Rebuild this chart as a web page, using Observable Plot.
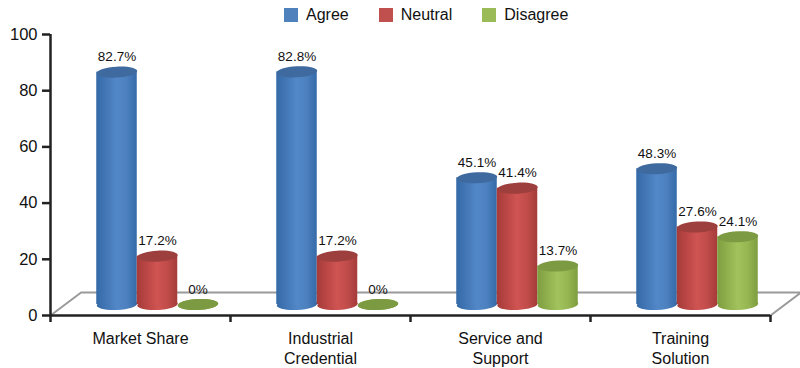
<!DOCTYPE html>
<html>
<head>
<meta charset="utf-8">
<script src="https://cdn.jsdelivr.net/npm/d3@7"></script>
<script src="https://cdn.jsdelivr.net/npm/@observablehq/plot@0.6"></script>
<style>
  html, body { margin: 0; background: #fff; font-family: "Liberation Sans", Arial, sans-serif; color: #111; }
  #legend { box-sizing: border-box; height: 24px; padding: 5px 0 0 284px; display: flex; align-items: center; font-size: 16px; }
  #legend span { display: inline-flex; align-items: center; margin-right: 30px; }
  #legend i { display: inline-block; width: 14px; height: 14px; margin-right: 8px; }
  svg { display: block; }
</style>
</head>
<body>
<div id="legend"></div>
<div id="chart"></div>
<script>
const categories = ["Market Share", "Industrial\nCredential", "Service and\nSupport", "Training\nSolution"];
const series = ["Agree", "Neutral", "Disagree"];
const agree = [82.7, 82.8, 45.1, 48.3];
const neutral = [17.2, 17.2, 41.4, 27.6];
const disagree = [0, 0, 13.7, 24.1];
const yTicks = [0, 20, 40, 60, 80, 100];

const swatches = ["#4f81bd", "#c0504d", "#9bbb59"];
const caps = ["#3f6a9f", "#9c3f3d", "#7b9a42"];
const shades = [
  ["#356aa8", "#4377b6", "#5388c8", "#4c80bf", "#356aa8"],
  ["#a53b39", "#bb4745", "#cf5452", "#c04c4a", "#a53b39"],
  ["#7e9e40", "#90b04e", "#a2c25d", "#96b652", "#7e9e40"]
];

const values = [agree, neutral, disagree];
const rows = categories.flatMap((category, g) =>
  series.map((name, s) => ({group: g, slot: s, series: name, value: values[s][g]}))
);

// Cylinders sit on the middle of the receding floor, so everything is nudged back by the same offset.
const barWidth = 0.225;
const depth = {dx: 17, dy: -11};
const left = (d) => d.group + 0.5 + (d.slot - 1.5) * barWidth;
const middle = (d) => d.group + 0.5 + (d.slot - 1) * barWidth;

// Flattened circle, used as a dot symbol for the cylinder ends.
const ellipse = {
  draw(context, size) {
    const a = Math.sqrt(size / Math.PI), b = a * 0.27, k = 0.5523;
    context.moveTo(-a, 0);
    context.bezierCurveTo(-a, -k * b, -k * a, -b, 0, -b);
    context.bezierCurveTo(k * a, -b, a, -k * b, a, 0);
    context.bezierCurveTo(a, k * b, k * a, b, 0, b);
    context.bezierCurveTo(-k * a, b, -a, k * b, -a, 0);
    context.closePath();
  }
};

const gradients = () => {
  const defs = d3.create("svg:defs");
  shades.forEach((stops, i) => {
    const g = defs.append("linearGradient").attr("id", `shade${i}`);
    stops.forEach((c, j) => g.append("stop").attr("offset", j / (stops.length - 1)).attr("stop-color", c));
  });
  return defs.node();
};

// Floor outline in data units: the back edge recedes up and to the right.
const backX = 0.17, backY = 8.2;
const floor = [[0, 0], [backX, backY], [4 + backX, backY], [4, 0]];
const tickColor = "#222";

const plot = Plot.plot({
  width: 800,
  height: 344,
  marginLeft: 50,
  marginRight: 30,
  marginTop: 10,
  marginBottom: 53,
  style: {fontFamily: "'Liberation Sans', Arial, sans-serif", color: "#111", background: "#fff"},
  x: {domain: [0, 4], axis: null},
  y: {domain: [0, 100], axis: null},
  color: {domain: series, range: series.map((_, i) => `url(#shade${i})`)},
  marks: [
    gradients,
    Plot.line(floor, {x: "0", y: "1", stroke: "#9a9a9a", strokeWidth: 2}),
    Plot.dot(rows, {x: middle, y: () => 0, r: barWidth * 90, symbol: ellipse, rotate: -3, fill: "series", ...depth}),
    Plot.rect(rows, {
      x1: left, x2: (d) => left(d) + barWidth,
      y1: () => 0, y2: "value",
      fill: "series", ...depth
    }),
    Plot.dot(rows, {
      x: middle, y: "value", r: barWidth * 90, symbol: ellipse, rotate: -3,
      fill: {value: (d) => caps[d.slot], scale: null}, ...depth
    }),
    Plot.text(rows, {
      x: middle, y: "value", text: (d) => `${d.value}%`,
      fontSize: 13.5, fill: "#111", dx: 17, dy: -26
    }),
    Plot.ruleX([0], {stroke: tickColor, strokeWidth: 2.5}),
    Plot.ruleY([0], {stroke: tickColor, strokeWidth: 2.5}),
    Plot.axisY({
      ticks: yTicks, tickSize: 8, tickPadding: 5, fontSize: 16.5, stroke: tickColor, strokeWidth: 2.5,
      label: null, anchor: "left", color: "#111"
    }),
    Plot.axisX({
      ticks: [0, 1, 2, 3, 4], tickSize: 7, tickFormat: () => "", stroke: tickColor, strokeWidth: 2.5,
      label: null, anchor: "bottom"
    }),
    Plot.text(categories, {
      x: (_, i) => i + 0.5, y: () => 0, text: (d) => d,
      fontSize: 16, lineHeight: 1.25, lineAnchor: "top", dy: 14, fill: "#111"
    })
  ]
});
document.getElementById("chart").append(plot);

const legend = d3.select("#legend");
series.forEach((name, i) => {
  const item = legend.append("span");
  item.append("i").style("background", swatches[i]);
  item.append("b").style("font-weight", "normal").text(name);
});
</script>
</body>
</html>
